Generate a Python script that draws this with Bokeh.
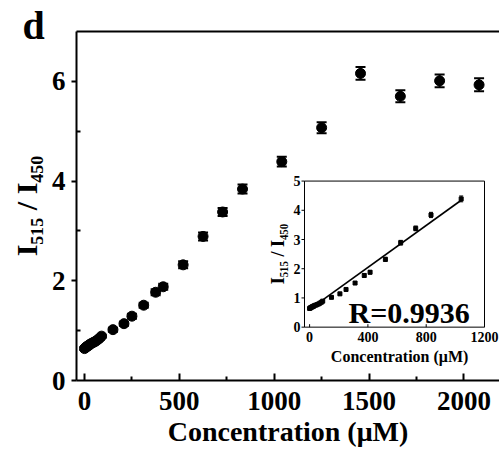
import math
from bokeh.plotting import figure
from bokeh.models import LinearAxis, Range1d, FixedTicker
from bokeh.embed import file_html
from bokeh.resources import INLINE
from bokeh.core.properties import value

# ---------------- data ----------------
conc = [0, 5, 10, 15, 20, 25, 30, 40, 50, 60, 70, 80, 90,
        150, 208, 250, 312, 375, 415, 520, 625, 728, 833, 1040,
        1250, 1455, 1665, 1872, 2080]
ratio = [0.64, 0.66, 0.67, 0.69, 0.70, 0.71, 0.73, 0.75, 0.77, 0.79, 0.82, 0.85, 0.89,
         1.02, 1.14, 1.29, 1.51, 1.77, 1.88, 2.32, 2.89, 3.38, 3.84, 4.39,
         5.07, 6.16, 5.70, 6.01, 5.93]
err = [0.03, 0.03, 0.03, 0.03, 0.03, 0.03, 0.03, 0.03, 0.03, 0.03, 0.03, 0.03, 0.03,
       0.04, 0.04, 0.05, 0.05, 0.06, 0.06, 0.07, 0.08, 0.08, 0.09, 0.10,
       0.11, 0.13, 0.12, 0.13, 0.13]

inset_max_conc = 1040          # inset shows the linear part
fit_slope = 0.00359
fit_intercept = 0.61
r_text = "R=0.9936"

main_xticks = [0, 500, 1000, 1500, 2000]
main_xminor = [250, 750, 1250, 1750]
main_yticks = [0, 2, 4, 6]
main_yminor = [1, 3, 5]
inset_xticks = [0, 400, 800, 1200]
inset_xlabels = ["0", "400", "800", "1200"]
inset_yticks = [0, 1, 2, 3, 4, 5]
inset_ylabels = ["0", "1", "2", "3", "4", "5"]

x_title = "Concentration (\u03bcM)"
y_title = "I\u2085\u2081\u2085 / I\u2084\u2085\u2080"
panel_letter = "d"

FONT = "Liberation Serif"

# ---------------- layout constants (pixels) ----------------
W, H = 499, 449
frame_left, frame_top, frame_bottom = 76, 31, 381
frame_right = W
x0_px, px_per_unit_x = 84.0, 0.1897
xr_start = (frame_left - x0_px) / px_per_unit_x
xr_end = (frame_right - x0_px) / px_per_unit_x

# inset box in pixels and its data range
in_left_px, in_right_px, in_top_px, in_bottom_px = 304.0, 484.0, 181.0, 327.5
in_x0, in_x1 = -35.0, 1200.0
in_y0, in_y1 = 0.0, 5.0
ux = (in_x1 - in_x0) / (in_right_px - in_left_px)   # units per px
uy = (in_y1 - in_y0) / (in_bottom_px - in_top_px)
ex_start = in_x0 - (in_left_px - frame_left) * ux
ex_end = in_x1 + (frame_right - in_right_px) * ux
ey_start = in_y0 - (frame_bottom - in_bottom_px) * uy
ey_end = in_y1 + (in_top_px - frame_top) * uy

p = figure(width=W, height=H, x_range=Range1d(xr_start, xr_end), y_range=Range1d(0, 7),
           output_backend="svg", toolbar_location=None,
           min_border_left=frame_left, min_border_right=0,
           min_border_top=frame_top, min_border_bottom=H - frame_bottom)
p.outline_line_color = None
p.grid.visible = False
p.background_fill_color = "white"
p.border_fill_color = "white"

# panel letter as the title, pulled to the far left
p.title.text = panel_letter
p.title.align = "left"
p.title.offset = 22 - frame_left
p.title.standoff = -33
p.title.text_font = FONT
p.title.text_font_style = "bold"
p.title.text_font_size = "40px"
p.title.text_color = "black"

p.extra_x_ranges = {"inset": Range1d(ex_start, ex_end)}
p.extra_y_ranges = {"inset": Range1d(ey_start, ey_end)}

# ---- main axes ----
xa = p.xaxis[0]
xa.ticker = FixedTicker(ticks=main_xticks, minor_ticks=main_xminor)
xa.major_tick_in, xa.major_tick_out = 7, 0
xa.minor_tick_in, xa.minor_tick_out = 4, 0
xa.axis_line_width = 2
xa.major_tick_line_width = 2
xa.minor_tick_line_width = 2
xa.major_label_text_font = FONT
xa.major_label_text_font_style = "bold"
xa.major_label_text_font_size = "27px"
xa.major_label_text_color = "black"
xa.major_label_standoff = 11
xa.axis_label = x_title
xa.axis_label_text_font = FONT
xa.axis_label_text_font_style = "bold"
xa.axis_label_text_font_size = "28px"
xa.axis_label_text_color = "black"
xa.axis_label_standoff = 3

ya = p.yaxis[0]
ya.ticker = FixedTicker(ticks=main_yticks, minor_ticks=main_yminor)
ya.major_tick_in, ya.major_tick_out = 0, 5
ya.minor_tick_in, ya.minor_tick_out = 4, 0
ya.axis_line_width = 2
ya.major_tick_line_width = 2
ya.minor_tick_line_width = 2
ya.major_label_text_font = FONT
ya.major_label_text_font_style = "bold"
ya.major_label_text_font_size = "27px"
ya.major_label_text_color = "black"
ya.major_label_standoff = 6
ya.axis_label = y_title
ya.axis_label_text_font = FONT
ya.axis_label_text_font_style = "bold"
ya.axis_label_text_font_size = "30px"
ya.axis_label_text_color = "black"
ya.axis_label_standoff = 6

top_axis = LinearAxis(ticker=FixedTicker(ticks=[]), major_tick_line_color=None,
                      minor_tick_line_color=None, major_label_text_font_size="0px",
                      major_label_standoff=0, axis_line_width=2)
p.add_layout(top_axis, "above")

# ---- main data ----
upper = [r + e for r, e in zip(ratio, err)]
lower = [r - e for r, e in zip(ratio, err)]
p.segment(x0=conc, y0=lower, x1=conc, y1=upper, line_color="black", line_width=2)
p.scatter(x=conc, y=upper, marker="dash", size=10, line_color="black", line_width=2)
p.scatter(x=conc, y=lower, marker="dash", size=10, line_color="black", line_width=2)
p.scatter(x=conc, y=ratio, marker="circle", size=10, fill_color="black", line_color="black")

# ---- inset ----
R = dict(x_range_name="inset", y_range_name="inset")
p.quad(left=[in_x0], right=[in_x1], bottom=[in_y0], top=[in_y1],
       fill_color="white", line_color="black", line_width=1, **R)

ic = [c for c in conc if c <= inset_max_conc]
ir = ratio[:len(ic)]
ie = err[:len(ic)]
iu = [r + e for r, e in zip(ir, ie)]
il = [r - e for r, e in zip(ir, ie)]
p.segment(x0=ic, y0=il, x1=ic, y1=iu, line_color="black", line_width=1, **R)
p.scatter(x=ic, y=iu, marker="dash", size=4, line_color="black", line_width=1, **R)
p.scatter(x=ic, y=il, marker="dash", size=4, line_color="black", line_width=1, **R)
p.scatter(x=ic, y=ir, marker="square", size=4, fill_color="black", line_color="black", **R)

fit_x = [ic[0], ic[-1]]
fit_y = [fit_intercept + fit_slope * v for v in fit_x]
p.line(x=fit_x, y=fit_y, line_color="black", line_width=1.6, **R)

# inset ticks
p.segment(x0=[in_x0 - 3 * ux] * len(inset_yticks), y0=inset_yticks,
          x1=[in_x0] * len(inset_yticks), y1=inset_yticks, line_color="black", line_width=1, **R)
p.segment(x0=inset_xticks, y0=[in_y0] * len(inset_xticks),
          x1=inset_xticks, y1=[in_y0 + 3 * uy] * len(inset_xticks), line_color="black", line_width=1, **R)

# inset tick labels
p.text(x=[in_x0] * len(inset_yticks), y=inset_yticks, text=inset_ylabels, x_offset=-4,
       text_align="right", text_baseline="middle", text_font=value(FONT),
       text_font_style="bold", text_font_size="14px", text_color="black", **R)
p.text(x=inset_xticks, y=[in_y0] * len(inset_xticks), text=inset_xlabels, y_offset=5,
       text_align="center", text_baseline="top", text_font=value(FONT),
       text_font_style="bold", text_font_size="14px", text_color="black", **R)
p.text(x=[(in_x0 + in_x1) / 2 + 35], y=[in_y0], text=[x_title], y_offset=21,
       text_align="center", text_baseline="top", text_font=value(FONT),
       text_font_style="bold", text_font_size="16px", text_color="black", **R)
p.text(x=[in_x0], y=[(in_y0 + in_y1) / 2], text=[y_title], x_offset=-27, angle=math.pi / 2,
       text_align="center", text_baseline="middle", text_font=value(FONT),
       text_font_style="bold", text_font_size="18px", text_color="black", **R)
p.text(x=[in_x0], y=[in_y0], text=[r_text], x_offset=44, y_offset=-15,
       text_align="left", text_baseline="middle", text_font=value(FONT),
       text_font_style="bold", text_font_size="30px", text_color="black", **R)

open("out.html", "w").write(file_html(p, INLINE))
